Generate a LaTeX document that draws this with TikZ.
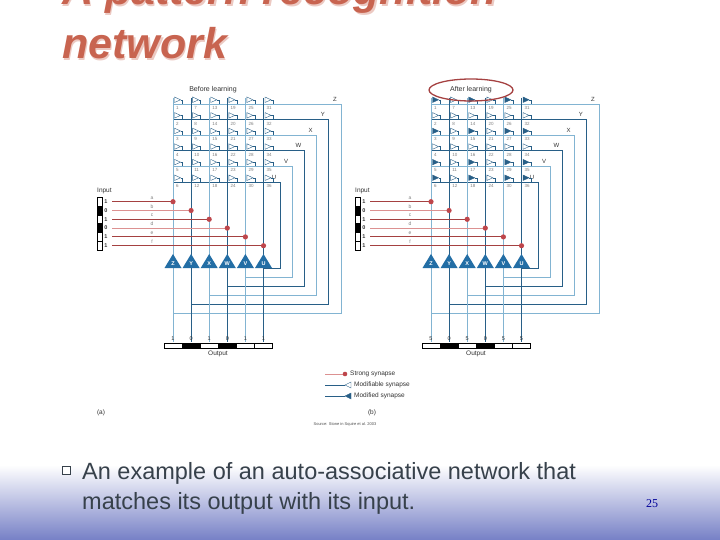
\documentclass[tikz,border=0pt]{standalone}
\usepackage{fontspec}
\setmainfont{Liberation Sans}
\newfontfamily\cond{Liberation Serif}
\begin{document}
\begin{tikzpicture}[x=1pt,y=-1pt,
  lt/.style={line width=0.9pt,draw=colL},
  dk/.style={line width=0.9pt,draw=colD},
  syn/.style={draw=colD,line width=0.4pt,fill=white},
  synf/.style={draw=colD,line width=0.4pt,fill=colD},
  num/.style={font=\fontsize{4.5}{5}\selectfont,text=gray,inner sep=0pt},
  lab/.style={font=\fontsize{6.5}{7}\selectfont,inner sep=0pt,text=black!80},
  ttl/.style={anchor=base west,inner sep=0pt,font=\fontsize{43}{44}\bfseries\itshape\selectfont},
  tiny/.style={font=\fontsize{4}{4}\selectfont,inner sep=0pt,text=black!70}]
\definecolor{colL}{RGB}{130,180,210}
\definecolor{colD}{RGB}{40,95,135}
\definecolor{tri}{RGB}{35,110,165}
\definecolor{redD}{RGB}{165,65,65}
\definecolor{redL}{RGB}{220,145,145}
\definecolor{dotc}{RGB}{190,70,75}
\definecolor{titlec}{RGB}{200,100,80}
\definecolor{bodyc}{RGB}{55,65,75}
\definecolor{bgb}{RGB}{118,128,198}
\useasboundingbox (0,0) rectangle (720,540);
\fill[white] (0,0) rectangle (720,540);
\shade[top color=white,bottom color=bgb] (0,465) rectangle (720,540);
% title
\node[ttl,text=titlec!35] at (63.5,6.5) {A pattern recognition};
\node[ttl,text=titlec] (t1) at (62,5) {A pattern recognition};
\node[ttl,text=titlec!35] at (63.5,60.5) {network};
\node[ttl,text=titlec] (t2) at (62,59) {network};
% networks
\foreach \ox/\aft/\pre in {0/0/A,258/1/B}{
 \begin{scope}[xshift=\ox pt]
 \node[lab,font=\fontsize{7}{8}\selectfont] (\pre head) at (213,90) {\ifnum\aft=0 Before learning\else After learning\fi};
 % rows
 \foreach \i/\L in {0/Z,1/Y,2/X,3/W,4/V,5/U}{
   \pgfmathsetmacro\ry{104+15.6*\i}
   \pgfmathsetmacro\xr{341-12.2*\i}
   \pgfmathsetmacro\yb{313-9*\i}
   \pgfmathsetmacro\cx{173+18.1*\i}
   \pgfmathtruncatemacro\odd{mod(\i,2)}
   \ifnum\odd=0 \def\st{lt}\else\def\st{dk}\fi
   \coordinate (\pre r\i a) at (173,\ry);
   \coordinate (\pre r\i b) at (\xr,\ry);
   \coordinate (\pre r\i c) at (\xr,\yb);
   \coordinate (\pre r\i d) at (\cx,\yb);
   \draw[\st,line width=0.8pt] (\pre r\i a) -- (\pre r\i b) -- (\pre r\i c) -- (\pre r\i d);
   \node[lab,font=\fontsize{6}{6}\selectfont] (\pre L\i) at (\xr-6,\ry-5) {\L};
 }
 % columns
 \foreach \j/\L in {0/Z,1/Y,2/X,3/W,4/V,5/U}{
   \pgfmathsetmacro\cx{173+18.1*\j}
   \pgfmathtruncatemacro\odd{mod(\j,2)}
   \ifnum\odd=0 \def\st{lt}\else\def\st{dk}\fi
   \coordinate (\pre c\j t) at (\cx,98);
   \coordinate (\pre c\j b) at (\cx,342);
   \draw[\st] (\pre c\j t) -- (\pre c\j b);
   \fill[tri] (\cx-8.5,268) -- (\cx+8.5,268) -- (\cx,254) -- cycle;
   \node[inner sep=0pt,text=white,font=\fontsize{5.5}{6}\bfseries\selectfont] (\pre o\j) at (\cx,263.5) {\L};
 }
 % synapses
 \foreach \i in {0,...,5}{
  \foreach \j in {0,...,5}{
   \pgfmathsetmacro\cx{173+18.1*\j}
   \pgfmathsetmacro\ry{104+15.6*\i}
   \pgfmathtruncatemacro\n{6*\j+\i+1}
   \pgfmathtruncatemacro\vi{{1,0,1,0,1,1}[\i]}
   \pgfmathtruncatemacro\vj{{1,0,1,0,1,1}[\j]}
   \pgfmathtruncatemacro\on{\aft*\vi*\vj}
   \ifnum\on=1 \def\st{synf}\else\def\st{syn}\fi
   \draw[\st] (\cx+1.5,\ry-7) -- (\cx+1.5,\ry-1.5) -- (\cx+7.5,\ry-4.2) -- cycle;
   \draw[colD,line width=0.4pt] (\cx+7.5,\ry-4.2) -- (\cx+9.5,\ry-4.2) -- (\cx+9.5,\ry);
   \node[num,anchor=west] (\pre s\n) at (\cx+3,\ry+4) {\n};
  }
 }
 % input
 \node[lab,anchor=west] (\pre inl) at (97,190.5) {Input};
 \foreach \i/\v/\l in {0/1/a,1/0/b,2/1/c,3/0/d,4/1/e,5/1/f}{
   \pgfmathsetmacro\yy{201.7+8.8*\i}
   \pgfmathsetmacro\cx{173+18.1*\i}
   \ifnum\v=0 \def\fc{black}\def\lc{redL}\else\def\fc{white}\def\lc{redD}\fi
   \draw[line width=0.4pt,fill=\fc] (97,\yy-4.4) rectangle (102,\yy+4.4);
   \node[lab,font=\fontsize{5.5}{6}\bfseries\selectfont] (\pre iv\i) at (106,\yy) {\v};
   \coordinate (\pre is\i) at (112,\yy);
   \coordinate (\pre ie\i) at (\cx,\yy);
   \draw[line width=0.9pt,\lc] (\pre is\i) -- (\pre ie\i);
   \fill[dotc] (\pre ie\i) circle (2.6);
   \node[lab,font=\fontsize{5}{5}\selectfont,text=gray] (\pre il\i) at (152,\yy-4) {\l};
 }
 % output
 \foreach \j/\v in {0/1,1/0,2/1,3/0,4/1,5/1}{
   \pgfmathsetmacro\cx{173+18.1*\j}
   \ifnum\v=0 \def\fc{black}\else\def\fc{white}\fi
   \draw[line width=0.4pt,fill=\fc] (\cx-9,343) rectangle (\cx+9,348);
   \node[lab,font=\fontsize{5.5}{6}\selectfont] (\pre ov\j) at (\cx,338.5) {\ifnum\aft=1 \ifnum\v=1 5\else 0\fi\else\v\fi};
 }
 \node[lab] (\pre outl) at (218,353.5) {Output};
 \end{scope}
}
\draw[redD,line width=1.3pt] (Bhead) ellipse (42 and 11);
% legend
\coordinate (l1a) at (325,374); \coordinate (l1b) at (345,374);
\draw[redL,line width=0.9pt] (l1a) -- (l1b); \fill[dotc] (l1b) circle (2.3);
\node[lab,anchor=west] (lt1) at (350,374) {Strong synapse};
\coordinate (l2a) at (325,385); \coordinate (l2b) at (345,385);
\draw[colD,line width=0.7pt] (l2a) -- (l2b);
\draw[syn] (345,385) -- (351,382) -- (351,388) -- cycle;
\node[lab,anchor=west] (lt2) at (354,385) {Modifiable synapse};
\coordinate (l3a) at (325,396); \coordinate (l3b) at (345,396);
\draw[colD,line width=0.9pt] (l3a) -- (l3b);
\draw[synf] (345,396) -- (351,393) -- (351,399) -- cycle;
\node[lab,anchor=west] (lt3) at (354,396) {Modified synapse};
\node[lab] (pa) at (101,413) {(a)};
\node[lab] (pb) at (372,413) {(b)};
\node[tiny] (src) at (345,424) {Source: Stone in Squire et al. 2003};
% bottom text
\draw[bodyc,line width=0.8pt,fill=white] (62.5,466.5) rectangle (70.5,474.5);
\node[anchor=base west,inner sep=0pt,text=bodyc,font=\fontsize{23.5}{24}\selectfont] (b1) at (82,479) {An example of an auto-associative network that};
\node[anchor=base west,inner sep=0pt,text=bodyc,font=\fontsize{23.5}{24}\selectfont] (b2) at (82,509) {matches its output with its input.};
\node[inner sep=0pt,text=blue!60!black,font=\cond\fontsize{12}{12}\selectfont] (pg) at (652,504) {25};
\end{tikzpicture}
\end{document}
